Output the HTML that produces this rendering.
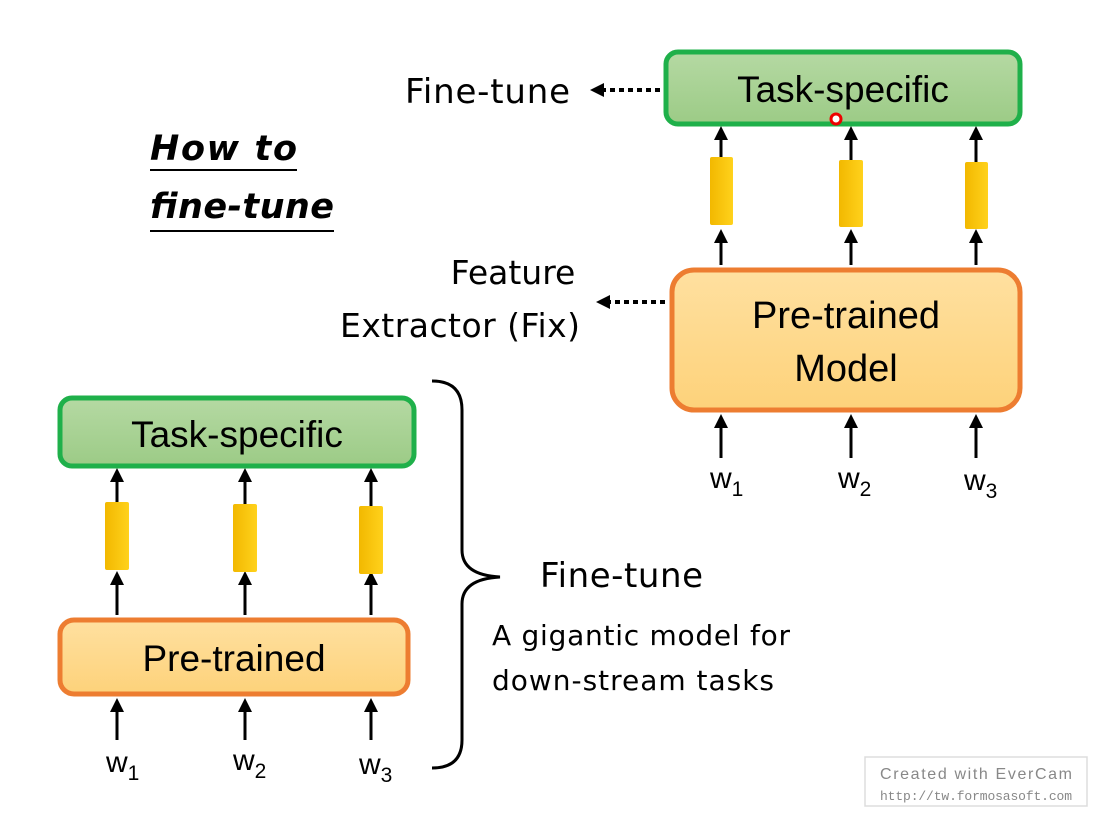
<!DOCTYPE html>
<html><head><style>body{margin:0;background:#fff}svg{display:block}</style></head><body>
<svg width="1094" height="814" viewBox="0 0 1094 814" xmlns="http://www.w3.org/2000/svg" font-family="'DejaVu Sans','Liberation Sans',sans-serif">
<defs>
<linearGradient id="g" x1="0" y1="0" x2="0" y2="1"><stop offset="0" stop-color="#b5d9a3"/><stop offset="1" stop-color="#9ccb86"/></linearGradient>
<linearGradient id="o" x1="0" y1="0" x2="0" y2="1"><stop offset="0" stop-color="#ffe0a0"/><stop offset="1" stop-color="#fdd27a"/></linearGradient>
<linearGradient id="y" x1="0" y1="0" x2="1" y2="0"><stop offset="0" stop-color="#f2b800"/><stop offset="1" stop-color="#ffd21c"/></linearGradient>
<marker id="b" markerWidth="14" markerHeight="14" refX="10" refY="7" orient="auto" markerUnits="userSpaceOnUse"><path d="M0,0 L14,7 L0,14 z" fill="#000"/></marker>
</defs>
<g stroke="#000" stroke-width="3" marker-end="url(#b)">
<line x1="721" y1="157" x2="721" y2="130"/><line x1="851" y1="160" x2="851" y2="130"/><line x1="976" y1="162" x2="976" y2="130"/>
<line x1="721" y1="265" x2="721" y2="233"/><line x1="851" y1="265" x2="851" y2="233"/><line x1="976" y1="265" x2="976" y2="233"/>
<line x1="721" y1="458" x2="721" y2="418"/><line x1="851" y1="458" x2="851" y2="418"/><line x1="976" y1="458" x2="976" y2="418"/>
<line x1="117" y1="502" x2="117" y2="472"/><line x1="245" y1="504" x2="245" y2="472"/><line x1="371" y1="506" x2="371" y2="472"/>
<line x1="117" y1="615" x2="117" y2="575"/><line x1="245" y1="615" x2="245" y2="575"/><line x1="371" y1="615" x2="371" y2="575"/>
<line x1="117" y1="740" x2="117" y2="702"/><line x1="245" y1="740" x2="245" y2="702"/><line x1="371" y1="740" x2="371" y2="702"/>
</g>
<g stroke="#000" stroke-width="4" stroke-dasharray="5,4" marker-end="url(#b)">
<line x1="660" y1="90" x2="594" y2="90"/><line x1="665" y1="302" x2="600" y2="302"/>
</g>
<rect x="666" y="52" width="354" height="72" rx="12" fill="url(#g)" stroke="#1fb04a" stroke-width="5"/>
<text x="843" y="102" font-size="37" text-anchor="middle" font-family="'Liberation Sans',sans-serif">Task-specific</text>
<circle cx="836" cy="119" r="5" fill="#fff" stroke="#e00" stroke-width="3"/>
<g fill="url(#y)">
<rect x="710" y="157" width="23" height="68" rx="2"/><rect x="839" y="160" width="24" height="67" rx="2"/><rect x="965" y="162" width="23" height="67" rx="2"/>
<rect x="105" y="502" width="24" height="68" rx="2"/><rect x="233" y="504" width="24" height="68" rx="2"/><rect x="359" y="506" width="24" height="68" rx="2"/>
</g>
<rect x="672" y="270" width="348" height="140" rx="22" fill="url(#o)" stroke="#ed7d31" stroke-width="5"/>
<text x="846" y="328" font-size="38" text-anchor="middle" font-family="'Liberation Sans',sans-serif">Pre-trained</text>
<text x="846" y="381" font-size="38" text-anchor="middle" font-family="'Liberation Sans',sans-serif">Model</text>
<g font-size="30" font-family="'Liberation Sans',sans-serif">
<text x="710" y="488">w<tspan font-size="21" dy="8">1</tspan></text>
<text x="838" y="488">w<tspan font-size="21" dy="8">2</tspan></text>
<text x="964" y="490">w<tspan font-size="21" dy="8">3</tspan></text>
<text x="106" y="772">w<tspan font-size="21" dy="8">1</tspan></text>
<text x="233" y="770">w<tspan font-size="21" dy="8">2</tspan></text>
<text x="359" y="774">w<tspan font-size="21" dy="8">3</tspan></text>
</g>
<g font-family="'DejaVu Sans',sans-serif" font-size="34">
<text x="405" y="103" textLength="165">Fine-tune</text>
<text x="513" y="284" text-anchor="middle" font-size="33">Feature</text>
<text x="340" y="337" font-size="33" textLength="240">Extractor (Fix)</text>
<text x="540" y="587" textLength="163">Fine-tune</text>
<text x="492" y="645" font-size="28" textLength="298">A gigantic model for</text>
<text x="492" y="690" font-size="28" textLength="282">down-stream tasks</text>
</g>
<g font-family="'DejaVu Sans',sans-serif" font-size="35" font-weight="bold" font-style="italic">
<text x="150" y="160" textLength="147">How to</text>
<text x="150" y="218" textLength="184">fine-tune</text>
</g>
<line x1="150" y1="170" x2="297" y2="170" stroke="#000" stroke-width="2"/>
<line x1="150" y1="231" x2="334" y2="231" stroke="#000" stroke-width="2"/>
<rect x="60" y="398" width="354" height="68" rx="12" fill="url(#g)" stroke="#1fb04a" stroke-width="5"/>
<text x="237" y="447" font-size="37" text-anchor="middle" font-family="'Liberation Sans',sans-serif">Task-specific</text>
<rect x="60" y="620" width="348" height="74" rx="14" fill="url(#o)" stroke="#ed7d31" stroke-width="5"/>
<text x="234" y="671" font-size="37" text-anchor="middle" font-family="'Liberation Sans',sans-serif">Pre-trained</text>
<path d="M432,381 Q462,381 462,410 L462,550 Q462,575 500,577 Q462,579 462,604 L462,740 Q462,768 432,768" fill="none" stroke="#000" stroke-width="3"/>
<rect x="865" y="757" width="222" height="49" fill="#fff" stroke="#ddd" stroke-width="1.5"/>
<text x="880" y="779" font-size="16" fill="#888" textLength="192" font-family="'Liberation Sans',sans-serif">Created  with  EverCam</text>
<text x="880" y="800" font-size="13" fill="#888" textLength="192" font-family="'Liberation Mono',monospace">http://tw.formosasoft.com</text>
</svg>
</body></html>
